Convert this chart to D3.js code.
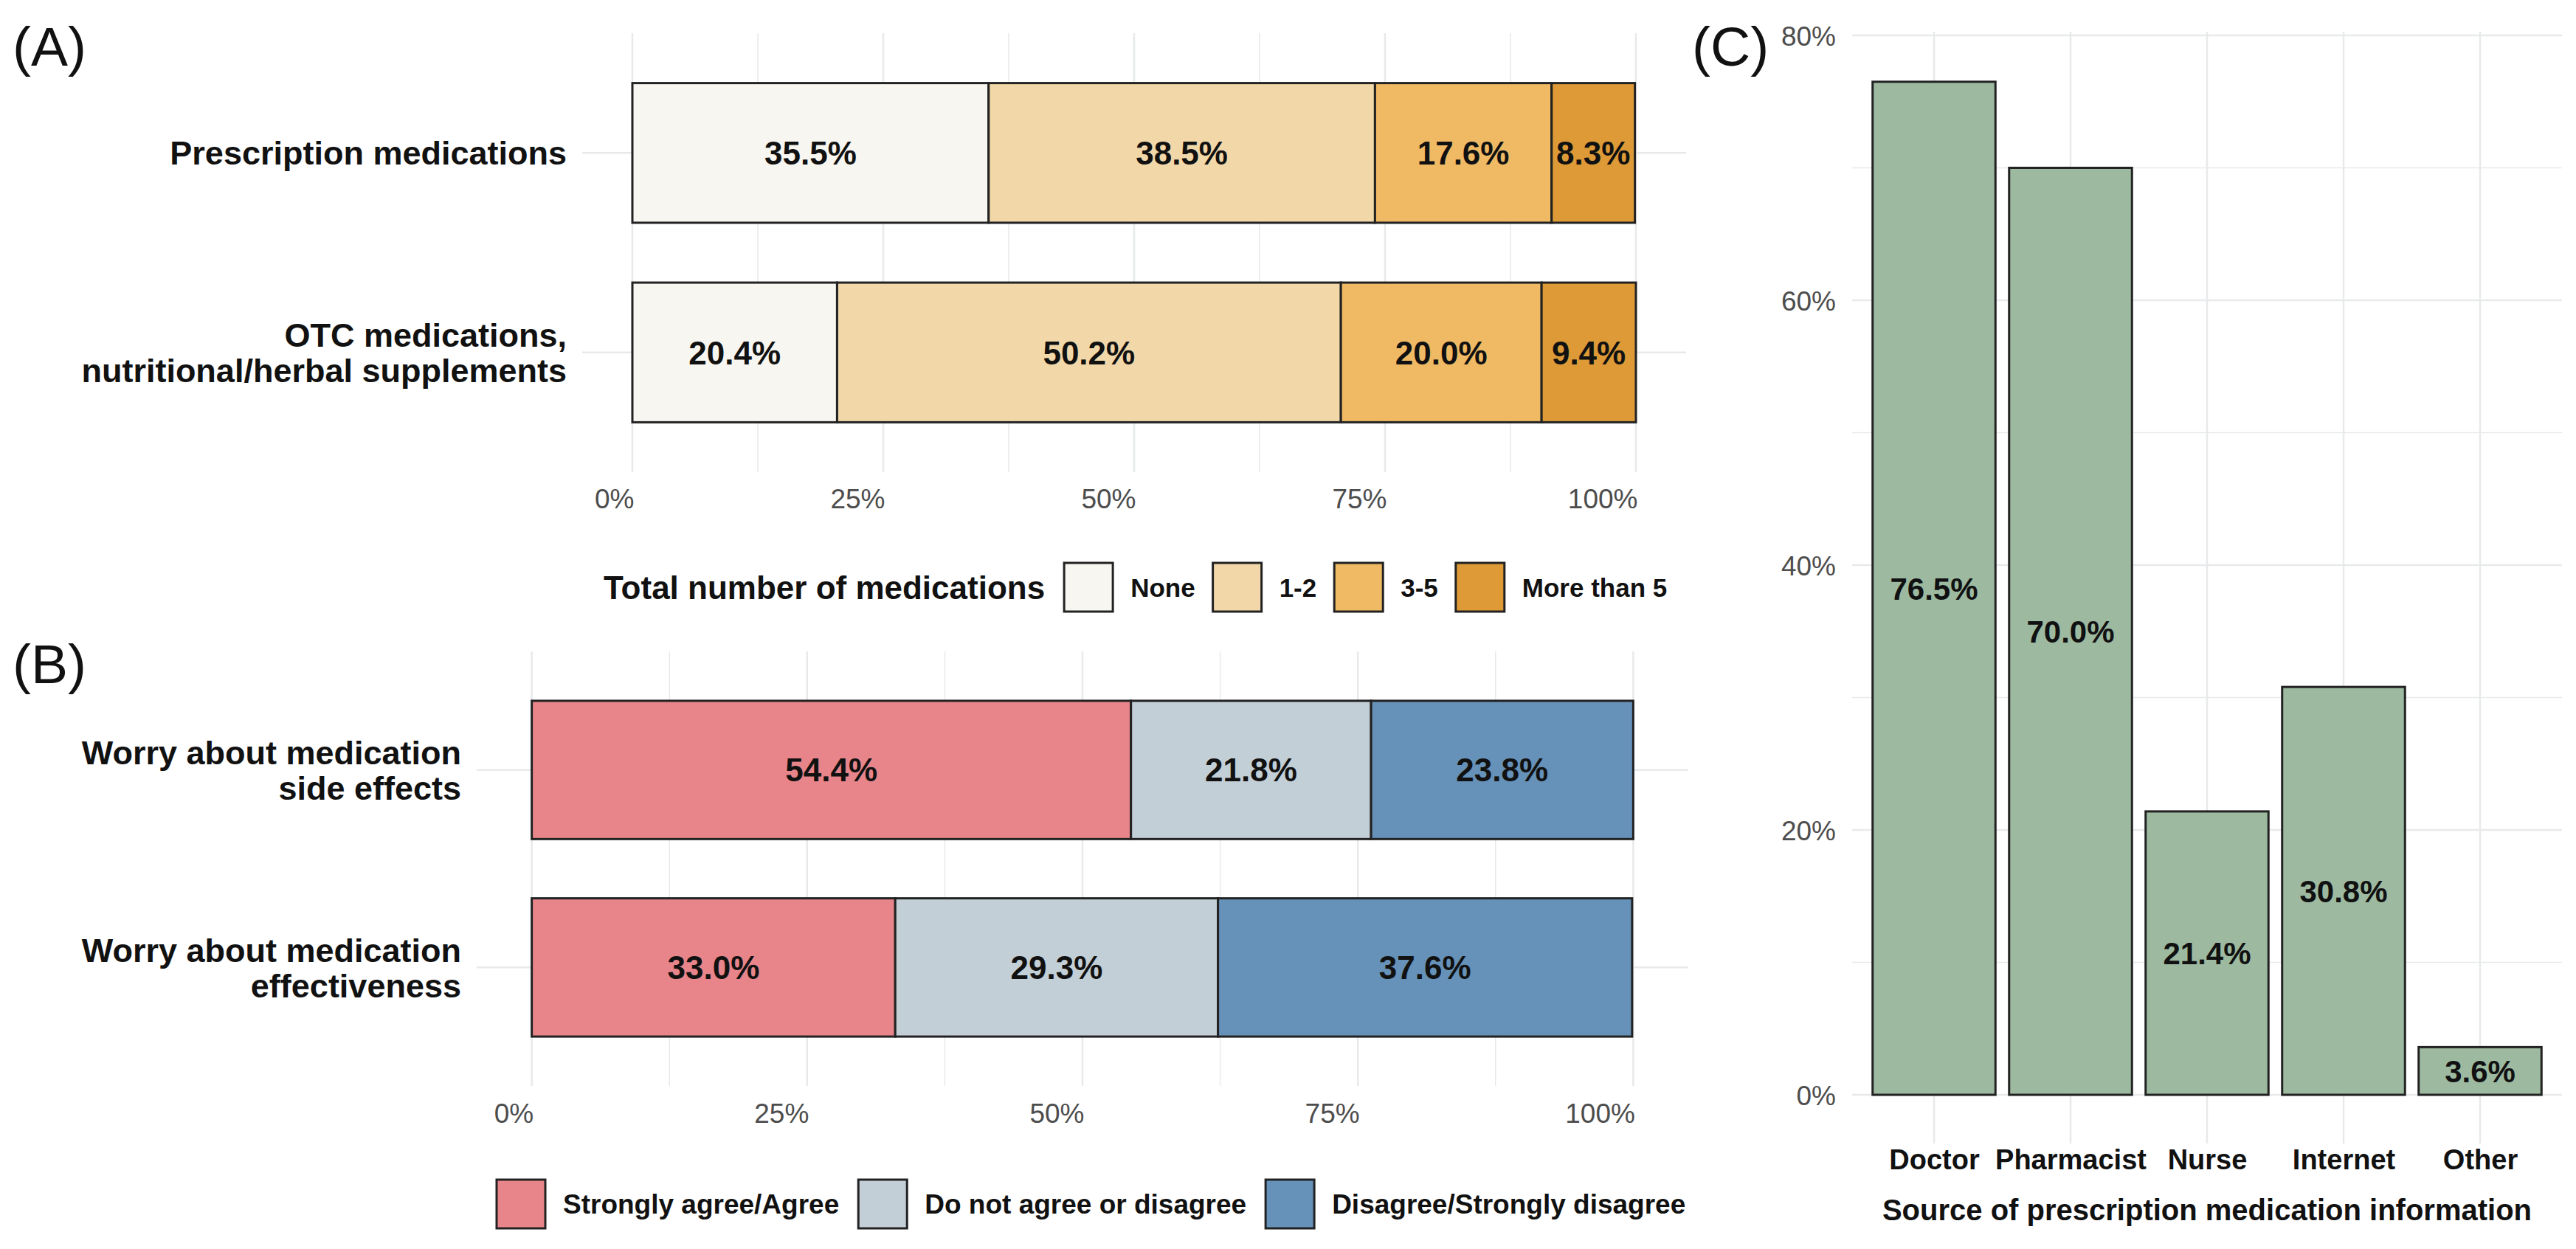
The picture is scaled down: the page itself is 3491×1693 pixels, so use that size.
<!DOCTYPE html>
<html>
<head>
<meta charset="utf-8">
<script src="https://cdn.jsdelivr.net/npm/d3@7"></script>
<style>
body { margin: 0; background: #fff; }
text { font-family: "Liberation Sans", Arial, Helvetica, sans-serif; }
</style>
</head>
<body>
<svg id="chart"></svg>
<script>
// ---- data ----
const medGroups = ["Prescription medications", "OTC medications,\nnutritional/herbal supplements"]
const medLevels = ["None", "1-2", "3-5", "More than 5"]
const medPrescription = [35.5, 38.5, 17.6, 8.3]
const medOTC = [20.4, 50.2, 20.0, 9.4]
const medColors = ["#F8F6F0", "#F2D8A9", "#F0BA65", "#DD9A37"]

const worryGroups = ["Worry about medication\nside effects", "Worry about medication\neffectiveness"]
const worryLevels = ["Strongly agree/Agree", "Do not agree or disagree", "Disagree/Strongly disagree"]
const worrySideEffects = [54.4, 21.8, 23.8]
const worryEffectiveness = [33.0, 29.3, 37.6]
const worryColors = ["#E8858A", "#C3CFD6", "#6691B8"]

const sources = ["Doctor", "Pharmacist", "Nurse", "Internet", "Other"]
const sourceValues = [76.5, 70.0, 21.4, 30.8, 3.6]
const sourceColor = "#9DBAA1"

const pctTicks = [0, 25, 50, 75, 100]
const sourceTicks = [0, 20, 40, 60, 80]

// ---- setup ----
const W = 3491, H = 1693
const svg = d3.select("#chart").attr("width", W).attr("height", H)
svg.append("rect").attr("width", W).attr("height", H).attr("fill", "#fff")

const gridColor = "#E7E9EB"
const outline = "#222"
const fmt = d => d3.format(".1f")(d) + "%"
const mids = t => d3.pairs(t).map(p => (p[0] + p[1]) / 2)

function panelLabel(txt, x, y) {
    svg.append("text").attr("x", x).attr("y", y)
        .attr("font-size", 75).attr("fill", "#111").text(txt)
}

// stacked horizontal bar panel (A and B)
function stackedPanel(opt) {
    let g = svg.append("g")
    let rows = opt.groups.map((grp, i) => {
        let r = {group: grp}
        opt.levels.forEach((l, j) => r[l] = opt.values[i][j])
        return r
    })
    let series = d3.stack().keys(opt.levels)(rows)

    let x = d3.scaleLinear().domain([-5, 105]).range(opt.xRange)
    let y = d3.scalePoint().domain(opt.groups).range(opt.yRange).padding(0.6)
    let bh = y.step() * 0.7

    // grid
    g.selectAll(".minor").data(mids(pctTicks)).join("line")
        .attr("x1", d => x(d)).attr("x2", d => x(d))
        .attr("y1", opt.yRange[0]).attr("y2", opt.yRange[1])
        .attr("stroke", gridColor).attr("stroke-width", 1.5)
    g.selectAll(".major").data(pctTicks).join("line")
        .attr("x1", d => x(d)).attr("x2", d => x(d))
        .attr("y1", opt.yRange[0]).attr("y2", opt.yRange[1])
        .attr("stroke", gridColor).attr("stroke-width", 2.5)
    g.selectAll(".hgrid").data(opt.groups).join("line")
        .attr("x1", opt.xRange[0]).attr("x2", opt.xRange[1])
        .attr("y1", d => y(d)).attr("y2", d => y(d))
        .attr("stroke", gridColor).attr("stroke-width", 2.5)

    // bars
    series.forEach((s, j) => {
        g.append("g").selectAll("rect").data(s).join("rect")
            .attr("x", d => x(d[0]))
            .attr("width", d => x(d[1]) - x(d[0]))
            .attr("y", d => y(d.data.group) - bh / 2)
            .attr("height", bh)
            .attr("fill", opt.colors[j])
            .attr("stroke", outline).attr("stroke-width", 3)
        g.append("g").selectAll("text").data(s).join("text")
            .attr("x", d => (x(d[0]) + x(d[1])) / 2)
            .attr("y", d => y(d.data.group))
            .attr("dy", "0.36em")
            .attr("text-anchor", "middle")
            .attr("font-size", 44).attr("font-weight", "bold").attr("fill", "#111")
            .text(d => fmt(d[1] - d[0]))
    })

    // x axis labels (right aligned on the break)
    let xAxis = g.append("g").call(d3.axisBottom(x).tickValues(pctTicks).tickFormat(d => d + "%").tickSize(0))
    xAxis.select(".domain").remove()
    xAxis.selectAll("text")
        .attr("text-anchor", "end").attr("x", 2)
        .attr("y", opt.tickY).attr("dy", "0.36em")
        .attr("font-size", 37).attr("fill", "#4D4D4D")
        .attr("font-family", "Liberation Sans, Arial, sans-serif")

    // y labels
    opt.groups.forEach(grp => {
        let lines = grp.split("\n")
        let t = g.append("text")
            .attr("text-anchor", "end")
            .attr("font-size", 45).attr("font-weight", "bold").attr("fill", "#111")
        lines.forEach((ln, i) => {
            t.append("tspan").attr("x", opt.labelRight)
                .attr("y", y(grp) + (i - (lines.length - 1) / 2) * 48)
                .attr("dy", "0.36em").text(ln)
        })
    })
}

function legend(opt) {
    let g = svg.append("g")
    let cx = opt.x
    if (opt.title) {
        let t = g.append("text").attr("x", cx).attr("y", opt.cy).attr("dy", "0.36em")
            .attr("font-size", 44).attr("font-weight", "bold").attr("fill", "#111")
            .text(opt.title)
        cx += t.node().getComputedTextLength() + 26
    }
    opt.levels.forEach((l, i) => {
        g.append("rect").attr("x", cx).attr("y", opt.cy - 33)
            .attr("width", 66).attr("height", 66)
            .attr("fill", opt.colors[i]).attr("stroke", outline).attr("stroke-width", 3)
        cx += 66 + 24
        let t = g.append("text").attr("x", cx).attr("y", opt.cy).attr("dy", "0.36em")
            .attr("font-size", opt.size).attr("font-weight", "bold").attr("fill", "#111")
            .text(l)
        cx += t.node().getComputedTextLength() + opt.gap
    })
}

// ---- panel A ----
panelLabel("(A)", 17, 89)
stackedPanel({
    groups: medGroups, levels: medLevels, values: [medPrescription, medOTC],
    colors: medColors, xRange: [789, 2285], yRange: [45, 640],
    tickY: 676, labelRight: 768
})
legend({title: "Total number of medications", levels: medLevels, colors: medColors, x: 818, cy: 796, size: 35, gap: 24})

// ---- panel B ----
panelLabel("(B)", 17, 926)
stackedPanel({
    groups: worryGroups, levels: worryLevels, values: [worrySideEffects, worryEffectiveness],
    colors: worryColors, xRange: [646, 2288], yRange: [883, 1472],
    tickY: 1509, labelRight: 625
})
legend({levels: worryLevels, colors: worryColors, x: 673, cy: 1632, size: 37, gap: 26})

// ---- panel C ----
panelLabel("(C)", 2293, 89)
let gc = svg.append("g")
let cLeft = 2510, cRight = 3472, cTop = 43, cBottom = 1550
let xc = d3.scalePoint().domain(sources).range([cLeft, cRight]).padding(0.6)
let yc = d3.scaleLinear().domain([0, 80]).range([1484, 48])
let bw = xc.step() * 0.9

gc.selectAll(".minor").data(mids(sourceTicks)).join("line")
    .attr("x1", cLeft).attr("x2", cRight)
    .attr("y1", d => yc(d)).attr("y2", d => yc(d))
    .attr("stroke", gridColor).attr("stroke-width", 1.5)
gc.selectAll(".major").data(sourceTicks).join("line")
    .attr("x1", cLeft).attr("x2", cRight)
    .attr("y1", d => yc(d)).attr("y2", d => yc(d))
    .attr("stroke", gridColor).attr("stroke-width", 2.5)
gc.selectAll(".vgrid").data(sources).join("line")
    .attr("x1", d => xc(d)).attr("x2", d => xc(d))
    .attr("y1", cTop).attr("y2", cBottom)
    .attr("stroke", gridColor).attr("stroke-width", 2.5)

gc.selectAll(".bar").data(sources).join("rect")
    .attr("x", d => xc(d) - bw / 2).attr("width", bw)
    .attr("y", (d, i) => yc(sourceValues[i]))
    .attr("height", (d, i) => yc(0) - yc(sourceValues[i]))
    .attr("fill", sourceColor).attr("stroke", outline).attr("stroke-width", 3)

gc.selectAll(".val").data(sources).join("text")
    .attr("x", d => xc(d))
    .attr("y", (d, i) => yc(sourceValues[i] / 2)).attr("dy", "0.36em")
    .attr("text-anchor", "middle")
    .attr("font-size", 42).attr("font-weight", "bold").attr("fill", "#111")
    .text((d, i) => fmt(sourceValues[i]))

let yAxisC = gc.append("g").attr("transform", "translate(2488,0)")
    .call(d3.axisLeft(yc).tickValues(sourceTicks).tickFormat(d => d + "%").tickSize(0))
yAxisC.select(".domain").remove()
yAxisC.selectAll("text").attr("x", 0).attr("dy", "0.36em")
    .attr("font-size", 37).attr("fill", "#4D4D4D")
    .attr("font-family", "Liberation Sans, Arial, sans-serif")

let xAxisC = gc.append("g").attr("transform", "translate(0,1571)")
    .call(d3.axisBottom(xc).tickSize(0))
xAxisC.select(".domain").remove()
xAxisC.selectAll("text").attr("y", 0).attr("dy", "0.36em")
    .attr("font-size", 38).attr("font-weight", "bold").attr("fill", "#111")
    .attr("font-family", "Liberation Sans, Arial, sans-serif")

gc.append("text").attr("x", (cLeft + cRight) / 2).attr("y", 1640).attr("dy", "0.36em")
    .attr("text-anchor", "middle")
    .attr("font-size", 40).attr("font-weight", "bold").attr("fill", "#111")
    .text("Source of prescription medication information")
</script>
</body>
</html>
